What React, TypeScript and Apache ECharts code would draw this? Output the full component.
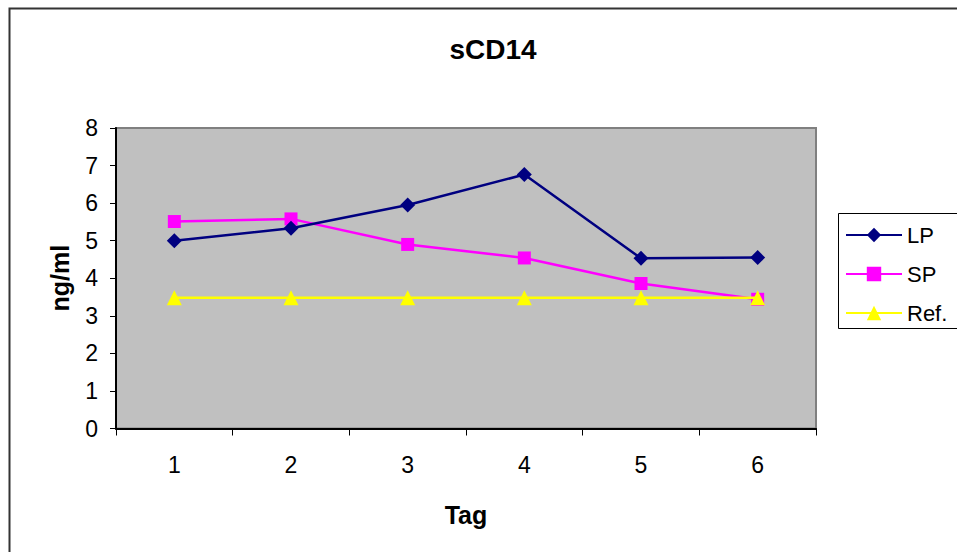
import React, { useEffect, useRef } from "react";
import * as echarts from "echarts";

const days = ["1", "2", "3", "4", "5", "6"];
const lpValues = [5.0, 5.33, 5.95, 6.76, 4.53, 4.55];
const spValues = [5.51, 5.58, 4.9, 4.54, 3.86, 3.44];
const refValues = [3.48, 3.48, 3.48, 3.48, 3.48, 3.48];

const FONT = "'Liberation Sans', Arial, sans-serif";

export default function App() {
  const ref = useRef<HTMLDivElement>(null);

  useEffect(() => {
    if (!ref.current) return;
    const chart = echarts.init(ref.current, null, { renderer: "svg" });
    chart.setOption({
      animation: false,
      backgroundColor: "#ffffff",
      textStyle: { fontFamily: FONT },
      title: {
        text: "sCD14",
        left: 488,
        top: 30,
        textAlign: "center",
        textStyle: { fontSize: 28, fontWeight: "bold", color: "#000", fontFamily: FONT },
      },
      graphic: [
        {
          type: "rect",
          shape: { x: 9.5, y: 8.5, width: 1000, height: 600 },
          style: { fill: "none", stroke: "#333", lineWidth: 2 },
          silent: true,
        },
        {
          type: "rect",
          shape: { x: 838.5, y: 213.5, width: 130, height: 115 },
          style: { fill: "#fff", stroke: "#000", lineWidth: 1 },
          z: 1,
          silent: true,
        },
      ],
      legend: {
        orient: "vertical",
        left: 840,
        top: 219,
        itemWidth: 56,
        itemHeight: 18,
        itemGap: 17,
        z: 5,
        textStyle: {
          fontSize: 22,
          color: "#000",
          fontFamily: FONT,
        },
        data: ["LP", "SP", "Ref."],
      },
      grid: {
        left: 116,
        top: 128,
        right: 141,
        bottom: 123.5,
        show: true,
        backgroundColor: "#c0c0c0",
        borderColor: "#808080",
        borderWidth: 2,
      },
      xAxis: {
        type: "category",
        data: days,
        boundaryGap: true,
        name: "Tag",
        nameLocation: "middle",
        nameGap: 74,
        nameTextStyle: { fontSize: 25, fontWeight: "bold", color: "#000", fontFamily: FONT },
        axisLine: { lineStyle: { color: "#000", width: 2 } },
        axisTick: { show: true, alignWithLabel: false, length: 7, lineStyle: { color: "#000", width: 1 } },
        axisLabel: { fontSize: 23, color: "#000", margin: 25, fontFamily: FONT },
        splitLine: { show: false },
      },
      yAxis: {
        type: "value",
        min: 0,
        max: 8,
        interval: 1,
        name: "ng/ml",
        nameLocation: "middle",
        nameGap: 44,
        nameRotate: 90,
        nameTextStyle: { fontSize: 25, fontWeight: "bold", color: "#000", fontFamily: FONT },
        axisLine: { show: true, lineStyle: { color: "#000", width: 2 } },
        axisTick: { show: true, length: 6, lineStyle: { color: "#000", width: 1 } },
        axisLabel: { fontSize: 23, color: "#000", margin: 18, fontFamily: FONT },
        splitLine: { show: false },
      },
      series: [
        {
          name: "LP",
          type: "line",
          data: lpValues,
          symbol: "diamond",
          symbolSize: 15,
          color: "#000080",
          lineStyle: { color: "#000080", width: 2.5 },
          itemStyle: { color: "#000080" },
          z: 4,
        },
        {
          name: "SP",
          type: "line",
          data: spValues,
          symbol: "rect",
          symbolSize: 13,
          color: "#ff00ff",
          lineStyle: { color: "#ff00ff", width: 2.5 },
          itemStyle: { color: "#ff00ff" },
          z: 3,
        },
        {
          name: "Ref.",
          type: "line",
          data: refValues,
          symbol: "triangle",
          symbolSize: 15,
          color: "#ffff00",
          lineStyle: { color: "#ffff00", width: 2.5 },
          itemStyle: { color: "#ffff00" },
          z: 5,
        },
      ],
    });
    return () => chart.dispose();
  }, []);

  return (
    <div
      ref={ref}
      style={{ position: "fixed", left: 0, top: 0, width: 957, height: 552 }}
    />
  );
}
